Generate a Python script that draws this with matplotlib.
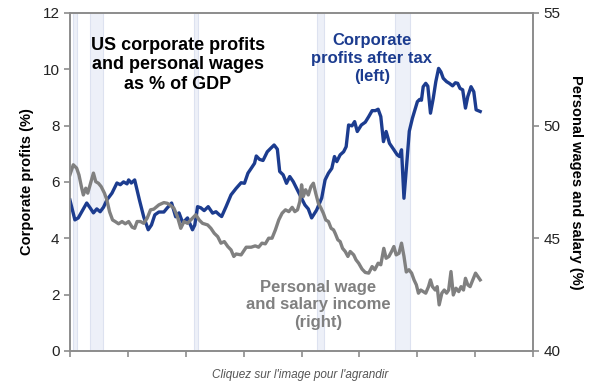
import matplotlib
matplotlib.use("Agg")
import matplotlib.pyplot as plt

plt.rcParams['font.family'] = ['Liberation Sans', 'DejaVu Sans']

# corporate profits after tax, % of GDP (left axis)
profit_years = [1980.0, 1980.43, 1980.72, 1981.45, 1981.74, 1982.03, 1982.32, 1982.61, 1982.9, 1983.19,
                1983.63, 1984.06, 1984.35, 1984.63, 1984.93, 1985.07, 1985.3, 1985.59, 1986.0, 1986.37,
                1986.76, 1987.04, 1987.33, 1987.68, 1988.11, 1988.41, 1988.78, 1989.13, 1989.42, 1989.71,
                1989.85, 1990.15, 1990.58, 1990.78, 1991.02, 1991.3, 1991.59, 1991.94, 1992.32, 1992.61,
                1992.9, 1993.1, 1993.48, 1993.91, 1994.35, 1994.78, 1995.07, 1995.37, 1995.65, 1995.94,
                1996.09, 1996.37, 1996.67, 1997.04, 1997.33, 1997.63, 1997.91, 1998.11, 1998.41, 1998.7,
                1998.98, 1999.28, 1999.57, 1999.85, 2000.29, 2000.58, 2000.87, 2001.3, 2001.74, 2002.03,
                2002.32, 2002.61, 2002.84, 2003.04, 2003.33, 2003.63, 2003.85, 2004.06, 2004.35, 2004.58,
                2004.81, 2005.16, 2005.5, 2005.8, 2006.09, 2006.37, 2006.61, 2006.84, 2007.07, 2007.3,
                2007.59, 2007.97, 2008.26, 2008.46, 2008.63, 2008.84, 2009.13, 2009.3, 2009.57, 2010.0,
                2010.2, 2010.35, 2010.5, 2010.72, 2010.9, 2011.13, 2011.37, 2011.59, 2011.83, 2012.03,
                2012.23, 2012.52, 2012.76, 2013.04, 2013.28, 2013.48, 2013.68, 2013.91, 2014.15, 2014.35,
                2014.63, 2014.87, 2015.07, 2015.42]
profits = [5.36, 4.65, 4.72, 5.25, 5.08, 4.9, 5.04, 4.94, 5.1, 5.36,
           5.6, 5.96, 5.9, 6.0, 5.93, 6.07, 5.96, 6.07, 5.36, 4.76,
           4.3, 4.47, 4.83, 4.93, 4.93, 5.08, 5.25, 4.76, 4.9, 4.58,
           4.59, 4.72, 4.3, 4.47, 5.12, 5.08, 4.98, 5.12, 4.89, 4.94,
           4.83, 4.77, 5.12, 5.54, 5.77, 5.97, 5.95, 6.31, 6.48, 6.66,
           6.92, 6.8, 6.76, 7.07, 7.19, 7.31, 7.16, 6.37, 6.25, 5.95,
           6.19, 6.01, 5.77, 5.54, 5.18, 5.04, 4.72, 5.0, 5.43, 6.07,
           6.31, 6.48, 6.9, 6.72, 6.96, 7.07, 7.25, 8.02, 7.99, 8.14,
           7.79, 8.02, 8.12, 8.32, 8.53, 8.53, 8.58, 8.32, 7.43, 7.79,
           7.37, 7.14, 6.96, 6.9, 7.14, 5.42, 6.9, 7.8, 8.26, 8.85,
           8.93, 8.9, 9.38, 9.5, 9.4, 8.44, 8.97, 9.56, 10.03, 9.91,
           9.68, 9.56, 9.5, 9.41, 9.52, 9.5, 9.32, 9.27, 8.62, 9.03,
           9.38, 9.2, 8.56, 8.5]

# personal wage and salary income, % of GDP (right axis)
wage_years = [1980.0, 1980.29, 1980.58, 1980.78, 1981.02, 1981.16, 1981.37, 1981.54, 1981.74, 1982.03,
              1982.23, 1982.46, 1982.7, 1982.98, 1983.19, 1983.42, 1983.68, 1983.91, 1984.2, 1984.5,
              1984.78, 1985.07, 1985.37, 1985.59, 1985.8, 1986.09, 1986.37, 1986.67, 1986.96, 1987.24,
              1987.68, 1988.11, 1988.41, 1988.7, 1988.98, 1989.28, 1989.57, 1989.85, 1990.15, 1990.43,
              1990.87, 1991.16, 1991.45, 1991.89, 1992.17, 1992.46, 1992.76, 1993.04, 1993.33, 1993.63,
              1993.91, 1994.15, 1994.35, 1994.78, 1995.22, 1995.65, 1996.0, 1996.29, 1996.58, 1996.87,
              1997.16, 1997.45, 1997.74, 1998.03, 1998.32, 1998.61, 1998.9, 1999.19, 1999.42, 1999.65,
              1999.85, 2000.0, 2000.15, 2000.35, 2000.58, 2000.81, 2001.02, 2001.22, 2001.45, 2001.68,
              2001.88, 2002.09, 2002.32, 2002.55, 2002.76, 2002.9, 2003.13, 2003.33, 2003.54, 2003.77,
              2004.0, 2004.2, 2004.5, 2004.7, 2004.93, 2005.22, 2005.5, 2005.8, 2006.09, 2006.32,
              2006.61, 2006.84, 2007.1, 2007.3, 2007.54, 2007.77, 2007.97, 2008.17, 2008.41, 2008.63,
              2008.84, 2009.04, 2009.27, 2009.5, 2009.71, 2009.91, 2010.09, 2010.29, 2010.5, 2010.72,
              2010.96, 2011.13, 2011.3, 2011.54, 2011.71, 2011.88, 2012.11, 2012.32, 2012.52, 2012.7,
              2012.9, 2013.1, 2013.33, 2013.57, 2013.77, 2013.98, 2014.15, 2014.35, 2014.55, 2014.78,
              2015.02, 2015.22, 2015.42]
wages = [47.81, 48.26, 48.11, 47.81, 47.22, 46.92, 47.22, 47.0, 47.37, 47.89,
         47.51, 47.44, 47.29, 47.0, 46.7, 46.18, 45.81, 45.74, 45.64, 45.74,
         45.64, 45.74, 45.49, 45.44, 45.74, 45.74, 45.66, 45.89, 46.26, 46.29,
         46.48, 46.58, 46.55, 46.45, 46.33, 45.96, 45.44, 45.74, 45.66, 45.81,
         46.04, 45.81, 45.66, 45.59, 45.44, 45.22, 45.07, 44.78, 44.85, 44.63,
         44.48, 44.19, 44.3, 44.26, 44.6, 44.6, 44.66, 44.6, 44.78, 44.75,
         45.0, 45.0, 45.37, 45.81, 46.11, 46.26, 46.18, 46.37, 46.18, 46.26,
         46.63, 47.37, 46.85, 47.15, 46.92, 47.29, 47.44, 47.0, 46.55, 46.33,
         46.11, 45.81, 45.74, 45.44, 45.37, 45.22, 44.93, 44.85, 44.55, 44.41,
         44.19, 44.41, 44.26, 44.04, 43.89, 43.63, 43.48, 43.45, 43.74, 43.6,
         43.89, 43.82, 44.55, 44.11, 44.19, 44.41, 44.63, 44.26, 44.33, 44.78,
         44.2, 43.5, 43.6, 43.45, 43.15, 42.93, 42.56, 42.7, 42.63, 42.56,
         42.85, 43.15, 42.85, 42.7, 42.85, 42.04, 42.56, 42.7, 42.56, 42.7,
         43.52, 42.48, 42.78, 42.63, 42.85, 42.7, 43.22, 42.93, 42.85, 43.15,
         43.45, 43.3, 43.15]

# recessions
rec_start = [1980.25, 1981.75, 1990.7, 2001.3, 2008.05]
rec_end = [1980.6, 1982.85, 1991.1, 2001.9, 2009.4]

blue = '#1c3c8f'
grey = '#808080'
spine_col = '#8c8c8c'

fig = plt.figure(figsize=(6.08, 3.92), dpi=100)
ax = fig.add_axes([0.115, 0.105, 0.762, 0.862])
ax2 = ax.twinx()

for s, e in zip(rec_start, rec_end):
    ax.axvspan(s, e, facecolor='#edf0f8', edgecolor='#dde2f0', lw=0.8, zorder=0)

ax.plot(profit_years, profits, color=blue, lw=2.4, zorder=3)
ax2.plot(wage_years, wages, color=grey, lw=2.4)

ax.set_xlim(1980, 2020)
ax.set_ylim(0, 12)
ax2.set_ylim(40, 55)
ax.set_xticks(range(1980, 2021, 5))
ax.set_xticklabels([])
ax.set_yticks(range(0, 13, 2))
ax2.set_yticks([40, 45, 50, 55])

for a in (ax, ax2):
    for sp in a.spines.values():
        sp.set_color(spine_col)
        sp.set_linewidth(1.2)
    a.tick_params(colors=spine_col, labelcolor='#222222', labelsize=11, length=4, width=1.2)

ax.set_ylabel('Corporate profits (%)', fontsize=10.5, fontweight='bold', labelpad=6)
ax2.set_ylabel('Personal wages and salary (%)', fontsize=10.5, fontweight='bold',
               rotation=270, labelpad=16)

ax.text(0.233, 0.93, 'US corporate profits\nand personal wages\nas % of GDP', transform=ax.transAxes,
        ha='center', va='top', fontsize=13, fontweight='bold', color='black', linespacing=1.22)
ax.text(0.652, 0.94, 'Corporate\nprofits after tax\n(left)', transform=ax.transAxes,
        ha='center', va='top', fontsize=12, fontweight='bold', color=blue, linespacing=1.25)
ax.text(0.536, 0.21, 'Personal wage\nand salary income\n(right)', transform=ax.transAxes,
        ha='center', va='top', fontsize=12, fontweight='bold', color=grey, linespacing=1.2)

fig.text(0.494, 0.043, "Cliquez sur l'image pour l'agrandir", ha='center', va='center',
         fontsize=8.5, style='italic', color='#555555')

fig.savefig('out.png', dpi=100)
